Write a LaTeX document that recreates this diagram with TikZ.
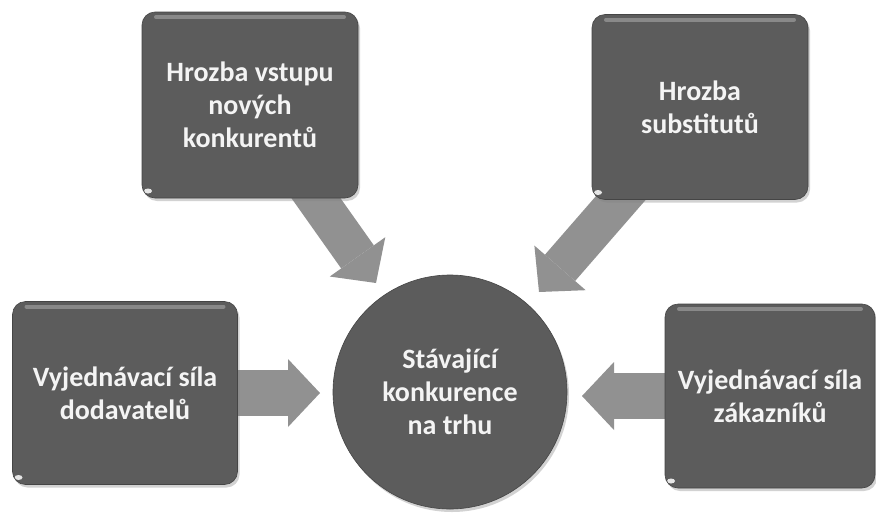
\documentclass[tikz,border=0pt]{standalone}
\usepackage{fontspec}
\setmainfont{Carlito}
\usetikzlibrary{arrows.meta,shadows,backgrounds}
\definecolor{boxgray}{RGB}{92,92,92}
\definecolor{arrowgray}{RGB}{145,145,145}
\definecolor{txtc}{RGB}{244,244,244}
\tikzset{
  gloss/.style={path picture={
    \draw[white,opacity=.28,line width=4pt,line cap=round]
      ([xshift=14pt,yshift=-5pt]path picture bounding box.north west) --
      ([xshift=-14pt,yshift=-5pt]path picture bounding box.north east);
    \fill[white,opacity=.85]
      ([xshift=6pt,yshift=7pt]path picture bounding box.south west) ellipse (4pt and 2.5pt);
  }},
  force/.style={rectangle, rounded corners=13pt, fill=boxgray, draw=boxgray!75!black,
    line width=0.6pt, text=txtc, align=center, inner sep=0pt,
    font=\fontsize{28}{33}\selectfont\bfseries,
    drop shadow={shadow xshift=2pt, shadow yshift=-3pt, opacity=.35}, gloss},
  hub/.style={circle, fill=boxgray, draw=boxgray!75!black, line width=0.6pt,
    text=txtc, align=center, inner sep=0pt, minimum size=234pt,
    font=\fontsize{28}{33}\selectfont\bfseries,
    drop shadow={shadow xshift=2pt, shadow yshift=-3pt, opacity=.35}},
  push/.style={draw=arrowgray, line width=46pt,
    -{Triangle[width=68pt,length=32pt,line width=0pt]}},
  slant/.style={push, line width=40pt}
}
\begin{document}
\begin{tikzpicture}[x=1pt,y=-1pt]
\useasboundingbox (0,0) rectangle (876,517);

\node[force, minimum width=216pt, minimum height=186pt] (tl) at (250,105)
  {Hrozba vstupu\\nových\\konkurentů};
\node[force, minimum width=216pt, minimum height=185pt] (tr) at (700,107)
  {Hrozba\\substitutů};
\node[force, minimum width=225pt, minimum height=183pt] (lb) at (125,393)
  {Vyjednávací síla\\dodavatelů};
\node[force, minimum width=210pt, minimum height=184pt] (rb) at (770,396)
  {Vyjednávací síla\\zákazníků};
\node[hub] (c) at (450,392) {Stávající\\konkurence\\na trhu};

\coordinate (tipA) at (376,283);
\coordinate (tipB) at (539,292);
\coordinate (tipL) at (320,393);
\coordinate (tipR) at (582,396);

\begin{pgfonlayer}{background}
\fill[white] (0,0) rectangle (876,517);
\draw[slant] (tl.center) -- (tipA);
\draw[slant] (tr.center) -- (tipB);
\draw[push] (lb.center) -- (tipL);
\draw[push] (rb.center) -- (tipR);
\end{pgfonlayer}
\end{tikzpicture}
\end{document}
